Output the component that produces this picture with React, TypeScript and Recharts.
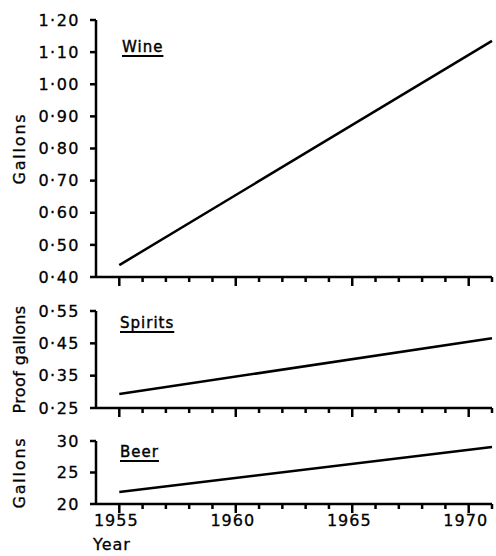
import React from 'react';
import { LineChart, Line, XAxis, YAxis } from 'recharts';

const years = [1955, 1971];
const wine = [0.437, 1.135];
const spirits = [0.293, 0.466];
const beer = [21.9, 29.05];

const yearTicks = [1955, 1956, 1957, 1958, 1959, 1960, 1961, 1962, 1963, 1964, 1965, 1966, 1967, 1968, 1969, 1970, 1971];
const wineTicks = [0.4, 0.5, 0.6, 0.7, 0.8, 0.9, 1.0, 1.1, 1.2];
const spiritsTicks = [0.25, 0.35, 0.45, 0.55];
const beerTicks = [20, 25, 30];

const wineData = years.map((y, i) => ({ year: y, v: wine[i] }));
const spiritsData = years.map((y, i) => ({ year: y, v: spirits[i] }));
const beerData = years.map((y, i) => ({ year: y, v: beer[i] }));

const FONT = '"DejaVu Sans", sans-serif';
const fmtDec = (v: number) => v.toFixed(2).replace('.', '·');

const YearTick = (props: any) => {
  const { x, y, payload, showLabel } = props;
  const major = payload.value % 5 === 0;
  return (
    <g>
      <line x1={x} x2={x} y1={y} y2={y + (major ? 9 : 5)} stroke="#000" strokeWidth={2.5} />
      {showLabel && major && payload.value <= 1970 ? (
        <text x={x - 3} y={y + 22} textAnchor="middle" fontSize={16} letterSpacing={1} fontFamily={FONT} fill="#000" stroke="#000" strokeWidth={0.3}>
          {payload.value}
        </text>
      ) : null}
    </g>
  );
};

const YLabel = (props: any) => {
  const vb = props.viewBox || {};
  const cx = 25;
  const cy = (vb.y ?? 0) + (vb.height ?? 0) / 2;
  return (
    <text x={cx} y={cy} transform={`rotate(-90, ${cx}, ${cy})`} textAnchor="middle" fontSize={16} letterSpacing={props.spacing} fontFamily={FONT} fill="#000" stroke="#000" strokeWidth={0.3}>
      {props.text}
    </text>
  );
};

const XLabel = (props: any) => {
  const vb = props.viewBox || {};
  return (
    <text x={(vb.x ?? 0) - 3} y={(vb.y ?? 0) + 46} textAnchor="start" fontSize={16} letterSpacing={1} fontFamily={FONT} fill="#000" stroke="#000" strokeWidth={0.3}>
      Year
    </text>
  );
};

const tickStyle = { fontSize: 16, fill: '#000', fontFamily: FONT, letterSpacing: 1.5, stroke: '#000', strokeWidth: 0.3 };

const Panel = (p: any) => (
  <div style={{ position: 'absolute', left: 0, top: p.top }}>
    <LineChart width={496} height={p.height} data={p.data} margin={{ top: p.marginTop, right: 4, bottom: 0, left: 0 }}>
      <XAxis
        dataKey="year"
        type="number"
        domain={[1954, 1971]}
        ticks={yearTicks}
        interval={0}
        tickSize={0}
        tickMargin={0}
        tickLine={false}
        height={p.xHeight}
        axisLine={{ stroke: '#000', strokeWidth: 2.5 }}
        tick={<YearTick showLabel={p.showYears} />}
        label={p.showYears ? <XLabel /> : undefined}
      />
      <YAxis
        type="number"
        domain={p.domain}
        ticks={p.ticks}
        interval={0}
        width={96}
        tickSize={6}
        tickMargin={10}
        tickFormatter={p.fmt}
        tick={tickStyle}
        tickLine={{ stroke: '#000', strokeWidth: 2.5 }}
        axisLine={{ stroke: '#000', strokeWidth: 2.5 }}
        label={<YLabel text={p.ylabel} spacing={p.ylabelSpacing} />}
      />
      <Line type="linear" dataKey="v" stroke="#000" strokeWidth={2.5} dot={false} isAnimationActive={false} />
    </LineChart>
  </div>
);

const nameStyle: React.CSSProperties = {
  position: 'absolute',
  fontFamily: FONT,
  fontSize: 15,
  lineHeight: '15px',
  letterSpacing: 1,
  color: '#000',
  WebkitTextStroke: '0.4px #000',
  textDecoration: 'underline',
  textDecorationThickness: '1.5px',
  textUnderlineOffset: '3px',
};

export default function App() {
  return (
    <div style={{ position: 'absolute', left: 0, top: 0, width: 496, height: 556, background: '#fff', overflow: 'hidden' }}>
      <Panel top={0} height={289} marginTop={20} xHeight={12} data={wineData} domain={[0.4, 1.2]} ticks={wineTicks} fmt={fmtDec} ylabel="Gallons" ylabelSpacing={1.8} showYears={false} />
      <Panel top={290} height={130} marginTop={21} xHeight={12} data={spiritsData} domain={[0.25, 0.55]} ticks={spiritsTicks} fmt={fmtDec} ylabel="Proof gallons" ylabelSpacing={0.4} showYears={false} />
      <Panel top={425} height={129} marginTop={16} xHeight={50} data={beerData} domain={[20, 30]} ticks={beerTicks} fmt={(v: number) => String(v)} ylabel="Gallons" ylabelSpacing={1.8} showYears={true} />
      <div style={{ ...nameStyle, left: 122, top: 40 }}>Wine</div>
      <div style={{ ...nameStyle, left: 120, top: 316 }}>Spirits</div>
      <div style={{ ...nameStyle, left: 120, top: 445 }}>Beer</div>
    </div>
  );
}
